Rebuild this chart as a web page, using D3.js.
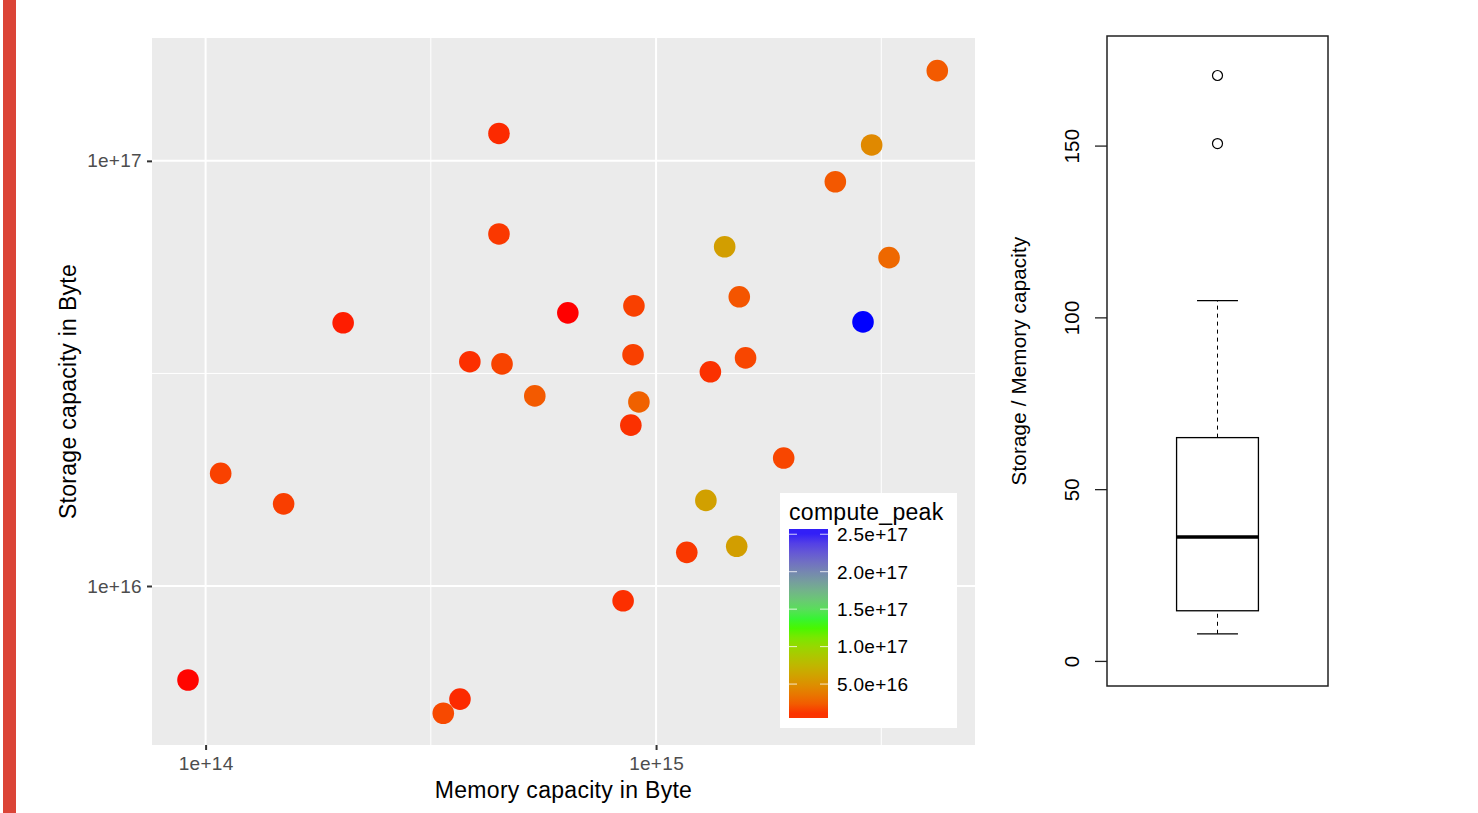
<!DOCTYPE html>
<html lang="en">
<meta charset="utf-8">
<title>Storage vs memory capacity</title>
<script src="https://d3js.org/d3.v7.min.js"></script>
<body>
<figure id="chart"></figure>
</body>
<style>
body { margin: 0; background: white; }
#chart { margin: 0; }
.tick-label { fill: #4d4d4d; font-family: "Liberation Sans", Arial, sans-serif; font-size: 19px; letter-spacing: 0.3px; }
.axis-title { fill: black; font-family: "Liberation Sans", Arial, sans-serif; font-size: 23px; letter-spacing: 0.3px; }
.legend-label { fill: black; font-family: "Liberation Sans", Arial, sans-serif; font-size: 19px; letter-spacing: 0.3px; }
.base-text { fill: black; font-family: "Liberation Sans", Arial, sans-serif; font-size: 20.5px; letter-spacing: 0.2px; }
</style>
<script>
    // Scatter data: memory capacity, storage capacity (bytes) and compute peak
    let memory = [9.14e13, 1.08e14, 1.49e14, 2.02e14, 3.37e14, 3.67e14, 4.48e14, 4.48e14, 3.86e14, 4.55e14,
                  5.38e14, 6.37e14, 8.93e14, 8.89e14, 9.16e14, 8.79e14, 8.45e14, 1.17e15, 1.29e15, 1.32e15,
                  1.42e15, 1.53e15, 1.58e15, 1.51e15, 1.92e15, 2.50e15, 3.01e15, 3.29e15, 2.88e15, 4.21e15];
    let storage = [6.01e15, 1.84e16, 1.56e16, 4.16e16, 5.02e15, 5.42e15, 1.16e17, 6.73e16, 3.37e16, 3.33e16,
                   2.80e16, 4.39e16, 4.56e16, 3.50e16, 2.71e16, 2.39e16, 9.23e15, 1.20e16, 1.59e16, 3.19e16,
                   6.28e16, 4.79e16, 3.44e16, 1.24e16, 2.00e16, 8.93e16, 1.09e17, 5.92e16, 4.18e16, 1.63e17];
    let computePeak = [5.0e15, 1.45e16, 1.35e16, 7.0e15, 1.7e16, 9.0e15, 9.0e15, 1.2e16, 1.0e16, 1.5e16,
                       2.3e16, 4.7e15, 1.4e16, 1.4e16, 2.6e16, 1.05e16, 1.0e16, 1.2e16, 6.0e16, 1.05e16,
                       5.9e16, 2.1e16, 1.6e16, 5.9e16, 1.6e16, 2.2e16, 4.6e16, 2.9e16, 2.57e17, 2.3e16];

    let xTicks = [1e14, 1e15];
    let yTicks = [1e16, 1e17];
    let xMinor = [Math.pow(10, 14.5), Math.pow(10, 15.5)];
    let yMinor = [Math.pow(10, 16.5)];
    let legendTicks = [5e16, 1e17, 1.5e17, 2e17, 2.5e17];

    // Box plot summary of storage / memory ratio
    let boxStats = [7.9, 14.6, 36.1, 65.0, 104.9];   // lower whisker, Q1, median, Q3, upper whisker
    let boxOutliers = [150.6, 170.4];
    let boxTicks = [0, 50, 100, 150];

    let svg = d3.select("#chart")
      .append("svg")
        .attr("width", 1478)
        .attr("height", 813);

    // red strip on the left edge
    svg.append("rect")
      .attr("x", 3).attr("y", 0)
      .attr("width", 13).attr("height", 813)
      .style("fill", "#db4437");

    // ---------------------------//
    //       SCATTER PANEL        //
    // ---------------------------//
    let panel = {left: 152, right: 975, top: 38, bottom: 745};

    let x = d3.scaleLog()
      .domain([Math.pow(10, 13.881), Math.pow(10, 15.708)])
      .range([panel.left, panel.right]);

    let y = d3.scaleLog()
      .domain([Math.pow(10, 15.626), Math.pow(10, 17.289)])
      .range([panel.bottom, panel.top]);

    svg.append("rect")
      .attr("x", panel.left).attr("y", panel.top)
      .attr("width", panel.right - panel.left)
      .attr("height", panel.bottom - panel.top)
      .style("fill", "#ebebeb");

    let grid = svg.append("g");
    grid.selectAll(".xminor").data(xMinor).enter().append("line")
      .attr("x1", d => x(d)).attr("x2", d => x(d))
      .attr("y1", panel.top).attr("y2", panel.bottom)
      .style("stroke", "white").style("stroke-width", 1);
    grid.selectAll(".yminor").data(yMinor).enter().append("line")
      .attr("y1", d => y(d)).attr("y2", d => y(d))
      .attr("x1", panel.left).attr("x2", panel.right)
      .style("stroke", "white").style("stroke-width", 1);
    grid.selectAll(".xmajor").data(xTicks).enter().append("line")
      .attr("x1", d => x(d)).attr("x2", d => x(d))
      .attr("y1", panel.top).attr("y2", panel.bottom)
      .style("stroke", "white").style("stroke-width", 2);
    grid.selectAll(".ymajor").data(yTicks).enter().append("line")
      .attr("y1", d => y(d)).attr("y2", d => y(d))
      .attr("x1", panel.left).attr("x2", panel.right)
      .style("stroke", "white").style("stroke-width", 2);

    let fmtSci = d => d3.format(".0e")(d);

    // X axis
    let xAxis = svg.append("g")
      .attr("transform", "translate(0," + panel.bottom + ")")
      .call(d3.axisBottom(x).tickValues(xTicks).tickSize(5).tickPadding(3).tickFormat(fmtSci))
      .call(g => g.select(".domain").remove());
    xAxis.selectAll(".tick line").style("stroke", "#333333").style("stroke-width", 2);
    xAxis.selectAll(".tick text").attr("class", "tick-label").attr("dy", "0.9em");
    xAxis.attr("font-family", null).attr("font-size", null);

    // Y axis
    let yAxis = svg.append("g")
      .attr("transform", "translate(" + panel.left + ",0)")
      .call(d3.axisLeft(y).tickValues(yTicks).tickSize(5).tickPadding(5).tickFormat(fmtSci))
      .call(g => g.select(".domain").remove());
    yAxis.selectAll(".tick line").style("stroke", "#333333").style("stroke-width", 2);
    yAxis.selectAll(".tick text").attr("class", "tick-label");
    yAxis.attr("font-family", null).attr("font-size", null);

    svg.append("text")
      .attr("class", "axis-title")
      .attr("text-anchor", "middle")
      .attr("x", (panel.left + panel.right) / 2)
      .attr("y", 798)
      .text("Memory capacity in Byte");

    svg.append("text")
      .attr("class", "axis-title")
      .attr("text-anchor", "middle")
      .attr("transform", "translate(76," + (panel.top + panel.bottom) / 2 + ") rotate(-90)")
      .text("Storage capacity in Byte");

    // colour scale red -> green -> blue over the data range
    let cExtent = d3.extent(computePeak);
    let colour = d3.scaleLinear()
      .domain([cExtent[0], (cExtent[0] + cExtent[1]) / 2, cExtent[1]])
      .range(["#ff0000", "#00ff00", "#0000ff"])
      .interpolate(d3.interpolateLab);

    let points = memory.map((m, i) => ({m: m, s: storage[i], c: computePeak[i]}));

    svg.append("g")
      .selectAll("circle")
      .data(points)
      .enter()
      .append("circle")
        .attr("cx", d => x(d.m))
        .attr("cy", d => y(d.s))
        .attr("r", 10.8)
        .style("fill", d => colour(d.c));

    // ---------------------------//
    //          LEGEND            //
    // ---------------------------//
    let legend = svg.append("g");
    legend.append("rect")
      .attr("x", 780).attr("y", 493)
      .attr("width", 177).attr("height", 235)
      .style("fill", "white");

    legend.append("text")
      .attr("class", "axis-title")
      .attr("x", 789).attr("y", 520)
      .text("compute_peak");

    let bar = {x: 789, w: 39, top: 529, bottom: 718};
    let cy = d3.scaleLinear().domain(cExtent).range([bar.bottom, bar.top]);

    // colour bar drawn in 20 bins like ggplot
    let grad = svg.append("defs").append("linearGradient")
      .attr("id", "cbar")
      .attr("x1", 0).attr("y1", 1).attr("x2", 0).attr("y2", 0);
    d3.range(0, 20).forEach(i => {
      let v = cExtent[0] + (cExtent[1] - cExtent[0]) * (i + 0.5) / 20;
      grad.append("stop").attr("offset", ((i + 0.5) / 20 * 100) + "%").attr("stop-color", colour(v));
    });

    legend.append("rect")
      .attr("x", bar.x).attr("y", bar.top)
      .attr("width", bar.w).attr("height", bar.bottom - bar.top)
      .style("fill", "url(#cbar)");

    legend.selectAll(".lt1").data(legendTicks).enter().append("line")
      .attr("x1", bar.x).attr("x2", bar.x + 8)
      .attr("y1", d => cy(d)).attr("y2", d => cy(d))
      .style("stroke", "white").style("stroke-opacity", 0.8);
    legend.selectAll(".lt2").data(legendTicks).enter().append("line")
      .attr("x1", bar.x + bar.w - 8).attr("x2", bar.x + bar.w)
      .attr("y1", d => cy(d)).attr("y2", d => cy(d))
      .style("stroke", "white").style("stroke-opacity", 0.8);
    legend.selectAll(".ll").data(legendTicks).enter().append("text")
      .attr("class", "legend-label")
      .attr("x", 837)
      .attr("y", d => cy(d))
      .attr("dy", "0.36em")
      .text(d => d3.format(".1e")(d));

    // ---------------------------//
    //          BOX PLOT          //
    // ---------------------------//
    let frame = {left: 1107, right: 1328, top: 36, bottom: 686};
    let bx = d3.scaleLinear().domain([0.46, 1.54]).range([frame.left, frame.right]);
    let by = d3.scaleLinear().domain([-7.3, 181.9]).range([frame.bottom, frame.top]);

    let box = svg.append("g").style("stroke", "black").style("fill", "none");

    // whiskers
    box.append("line")
      .attr("x1", bx(1)).attr("x2", bx(1))
      .attr("y1", by(boxStats[0])).attr("y2", by(boxStats[1]))
      .style("stroke-dasharray", "4,4");
    box.append("line")
      .attr("x1", bx(1)).attr("x2", bx(1))
      .attr("y1", by(boxStats[3])).attr("y2", by(boxStats[4]))
      .style("stroke-dasharray", "4,4");
    [boxStats[0], boxStats[4]].forEach(v => {
      box.append("line")
        .attr("x1", bx(0.9)).attr("x2", bx(1.1))
        .attr("y1", by(v)).attr("y2", by(v))
        .style("stroke-width", 1.3);
    });
    box.append("rect")
      .attr("x", bx(0.8)).attr("width", bx(1.2) - bx(0.8))
      .attr("y", by(boxStats[3])).attr("height", by(boxStats[1]) - by(boxStats[3]))
      .style("stroke-width", 1.3);
    box.append("line")
      .attr("x1", bx(0.8)).attr("x2", bx(1.2))
      .attr("y1", by(boxStats[2])).attr("y2", by(boxStats[2]))
      .style("stroke-width", 3.5);
    box.selectAll("circle").data(boxOutliers).enter().append("circle")
      .attr("cx", bx(1)).attr("cy", d => by(d)).attr("r", 5)
      .style("stroke-width", 1.2);

    // frame
    box.append("rect")
      .attr("x", frame.left).attr("y", frame.top)
      .attr("width", frame.right - frame.left).attr("height", frame.bottom - frame.top)
      .style("stroke", "#222").style("stroke-width", 1.5);

    // y axis of the box plot
    let byAxis = svg.append("g")
      .attr("transform", "translate(" + frame.left + ",0)")
      .call(d3.axisLeft(by).tickValues(boxTicks).tickSize(12).tickFormat(d3.format("d")));
    byAxis.select(".domain").remove();
    byAxis.selectAll(".tick line").style("stroke", "#222").style("stroke-width", 1.3);
    byAxis.selectAll(".tick text")
      .attr("class", "base-text")
      .attr("x", null).attr("dy", null)
      .attr("text-anchor", "middle")
      .attr("transform", "translate(-28,0) rotate(-90)");
    byAxis.attr("font-family", null).attr("font-size", null);

    svg.append("text")
      .attr("class", "base-text")
      .attr("text-anchor", "middle")
      .attr("transform", "translate(1026," + (frame.top + frame.bottom) / 2 + ") rotate(-90)")
      .text("Storage / Memory capacity");
</script>
</html>
